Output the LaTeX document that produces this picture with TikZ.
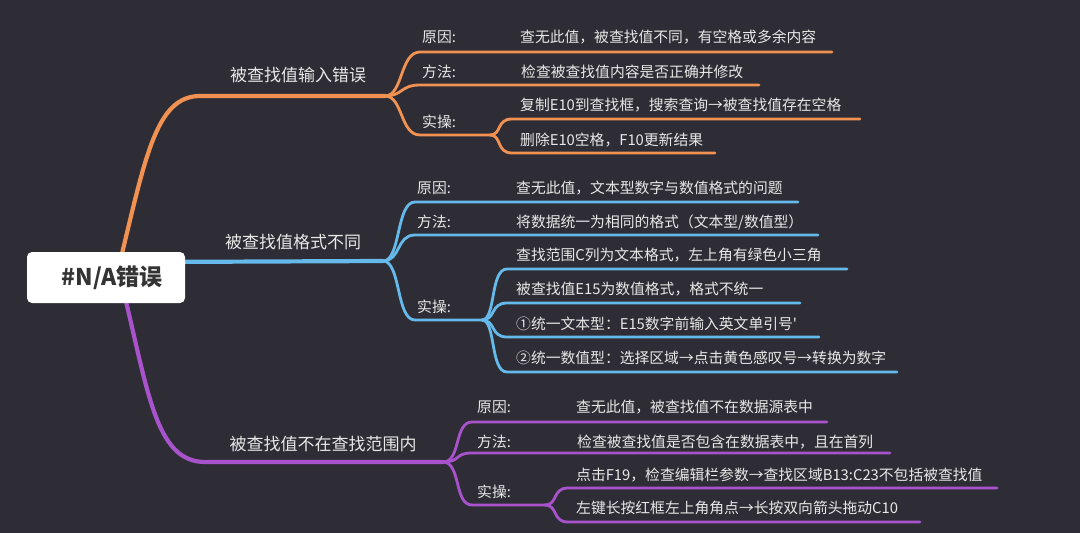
\documentclass[tikz,border=0pt]{standalone}
\usepackage{fontspec}
\setmainfont[Ligatures=TeXOff]{Noto Sans CJK SC}
\definecolor{bg}{HTML}{2E2D35}
\definecolor{txt}{HTML}{E8E8E8}
\definecolor{cor}{HTML}{F19252}
\definecolor{cbl}{HTML}{66BAEB}
\definecolor{cpu}{HTML}{A852CC}
\definecolor{rtxt}{HTML}{333333}
\begin{document}
\begin{tikzpicture}[x=1pt,y=-1pt,
  lbl/.style={font=\fontsize{17}{20}\selectfont, text=txt, inner sep=0pt, anchor=center},
  sub/.style={font=\fontsize{14.8}{18}\selectfont, text=txt, inner sep=0pt, anchor=west},
  mainline/.style={line width=4.2pt, line cap=round},
  subline/.style={line width=2.8pt, line cap=round},
  rootbox/.style={fill=white, rounded corners=5pt, minimum width=158pt, minimum height=51pt, inner sep=0pt,
    font=\bfseries\fontsize{23}{26}\selectfont, text=rtxt}
]
\fill[bg] (0,0) rectangle (1080,533);
\useasboundingbox (0,0) rectangle (1080,533);

% ---------- branch 1 (orange) ----------
\coordinate (r1) at (118,270);
\coordinate (b1) at (385,96);
\draw[mainline,cor] (r1) .. controls (145,160) and (155,96) .. (200,96) -- (b1);
\node[lbl] (l1) at (298,75) {被查找值输入错误};
\coordinate (e11) at (832,52);
\coordinate (e12) at (759,85);
\coordinate (p13) at (490,135);
\coordinate (e131) at (860,119);
\coordinate (e132) at (715,153);
\draw[subline,cor] (b1) .. controls (403,96) and (400,52) .. (420,52) -- (e11);
\draw[subline,cor] (b1) .. controls (403,96) and (400,85) .. (420,85) -- (e12);
\draw[subline,cor] (b1) .. controls (403,96) and (400,135) .. (420,135) -- (p13);
\draw[subline,cor] (p13) .. controls (502,135) and (496,119) .. (512,119) -- (e131);
\draw[subline,cor] (p13) .. controls (502,135) and (496,153) .. (512,153) -- (e132);
\node[sub] (k11) at (422,37) {原因:};
\node[sub] (d11) at (520,37) {查无此值，被查找值不同，有空格或多余内容};
\node[sub] (k12) at (422,72) {方法:};
\node[sub] (d12) at (521,72) {检查被查找值内容是否正确并修改};
\node[sub] (k13) at (422,122) {实操:};
\node[sub] (d131) at (520,105) {复制E10到查找框，搜索查询→被查找值存在空格};
\node[sub] (d132) at (520,140) {删除E10空格，F10更新结果};

% ---------- branch 2 (blue) ----------
\coordinate (r2) at (150,262);
\coordinate (b2) at (383,261);
\draw[mainline,cbl] (r2) -- (b2);
\node[lbl] (l2) at (293,242) {被查找值格式不同};
\coordinate (e21) at (798,202);
\coordinate (e22) at (818,235);
\coordinate (p23) at (482,320);
\draw[subline,cbl] (b2) .. controls (401,261) and (396,202) .. (415,202) -- (e21);
\draw[subline,cbl] (b2) .. controls (401,261) and (396,235) .. (415,235) -- (e22);
\draw[subline,cbl] (b2) .. controls (401,261) and (396,320) .. (415,320) -- (p23);
\coordinate (e231) at (847,269);
\coordinate (e232) at (800,303);
\coordinate (e233) at (819,337);
\coordinate (e234) at (897,372);
\draw[subline,cbl] (p23) .. controls (496,320) and (490,269) .. (507,269) -- (e231);
\draw[subline,cbl] (p23) .. controls (496,320) and (490,303) .. (507,303) -- (e232);
\draw[subline,cbl] (p23) .. controls (496,320) and (490,337) .. (507,337) -- (e233);
\draw[subline,cbl] (p23) .. controls (496,320) and (490,372) .. (507,372) -- (e234);
\node[sub] (k21) at (417,188) {原因:};
\node[sub] (d21) at (516,188) {查无此值，文本型数字与数值格式的问题};
\node[sub] (k22) at (417,222) {方法:};
\node[sub] (d22) at (516,222) {将数据统一为相同的格式（文本型/数值型）};
\node[sub] (k23) at (417,307) {实操:};
\node[sub] (d231) at (516,255) {查找范围C列为文本格式，左上角有绿色小三角};
\node[sub] (d232) at (516,289) {被查找值E15为数值格式，格式不统一};
\node[sub] (d233) at (516,324) {①统一文本型：E15数字前输入英文单引号'};
\node[sub] (d234) at (516,358) {②统一数值型：选择区域→点击黄色感叹号→转换为数字};

% ---------- branch 3 (purple) ----------
\coordinate (r3) at (122,285);
\coordinate (b3) at (443,462);
\draw[mainline,cpu] (r3) .. controls (148,390) and (155,462) .. (205,462) -- (b3);
\node[lbl] (l3) at (323,444) {被查找值不在查找范围内};
\coordinate (e31) at (827,422);
\coordinate (e32) at (890,453);
\coordinate (p33) at (545,505);
\draw[subline,cpu] (b3) .. controls (461,462) and (454,422) .. (472,422) -- (e31);
\draw[subline,cpu] (b3) .. controls (461,462) and (454,453) .. (472,453) -- (e32);
\draw[subline,cpu] (b3) .. controls (461,462) and (454,505) .. (472,505) -- (p33);
\coordinate (e331) at (997,488);
\coordinate (e332) at (920,522);
\draw[subline,cpu] (p33) .. controls (558,505) and (552,488) .. (568,488) -- (e331);
\draw[subline,cpu] (p33) .. controls (558,505) and (552,522) .. (568,522) -- (e332);
\node[sub] (k31) at (477,407) {原因:};
\node[sub] (d31) at (576,407) {查无此值，被查找值不在数据源表中};
\node[sub] (k32) at (477,442) {方法:};
\node[sub] (d32) at (577,442) {检查被查找值是否包含在数据表中，且在首列};
\node[sub] (k33) at (477,492) {实操:};
\node[sub] (d331) at (576,475) {点击F19，检查编辑栏参数→查找区域B13:C23不包括被查找值};
\node[sub] (d332) at (576,508) {左键长按红框左上角角点→长按双向箭头拖动C10};

% ---------- root ----------
\node[rootbox] (root) at (106,277.5) {\hspace*{12pt}\#N/A错误};
\end{tikzpicture}
\end{document}
